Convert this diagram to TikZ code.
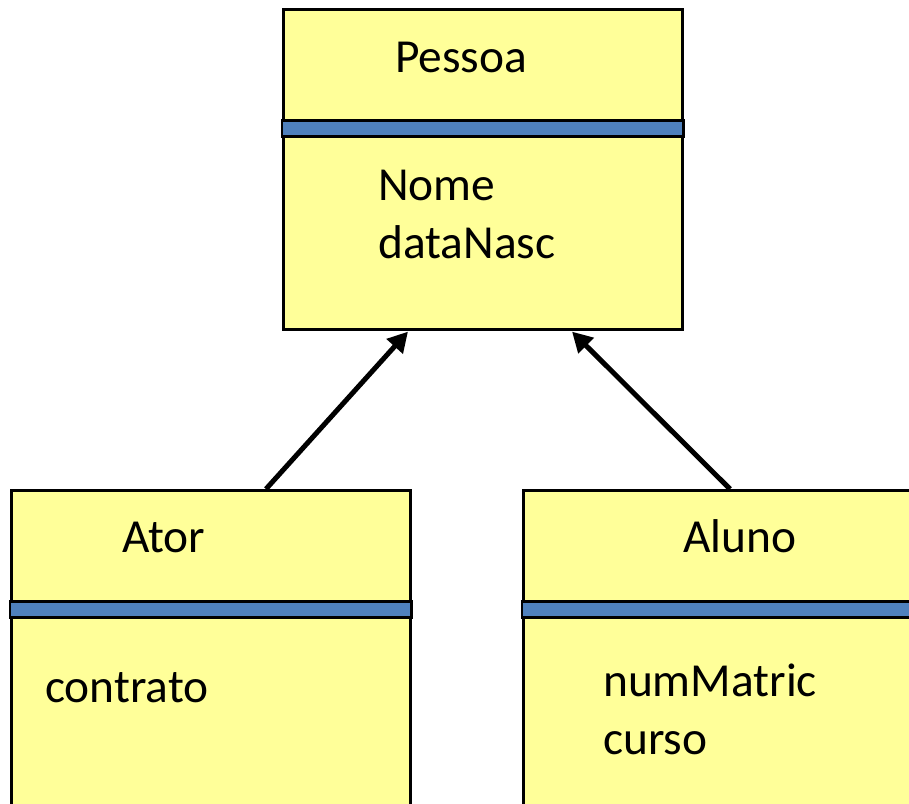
\documentclass[tikz,border=0pt]{standalone}
\usepackage{fontspec}
\setmainfont{Carlito}
\usetikzlibrary{arrows.meta,calc}
\definecolor{classfill}{HTML}{FFFF99}
\definecolor{bandblue}{HTML}{4F81BD}
\tikzset{
  classbox/.style={draw=black, line width=2.6pt, fill=classfill, rectangle,
    anchor=north west, inner sep=0pt, minimum width=399pt},
  band/.style={draw=black, line width=2.6pt, fill=bandblue},
  label/.style={anchor=base west, inner sep=0pt,
    font=\fontsize{47.4}{57}\selectfont},
  inherit/.style={line width=5pt, -{Triangle[length=20pt,width=21pt]}}
}
\begin{document}
\begin{tikzpicture}[x=1pt, y=-1pt]
\useasboundingbox (0,0) rectangle (909,803);
\fill[white] (0,0) rectangle (909,803);
\clip (0,0) rectangle (909,803);

% class boxes
\node[classbox, minimum height=320pt] (pessoa) at (282,8) {};
\node[classbox, minimum height=400pt] (ator) at (10,489) {};
\node[classbox, minimum height=400pt] (aluno) at (522,489) {};

% separator bands between name and attributes
\foreach \b in {pessoa, ator, aluno} {
  \draw[band] ($(\b.north west)+(0,112.5)$) rectangle ($(\b.north east)+(0,128.5)$);
}

% class names
\node[label] (tpessoa) at (395,72) {Pessoa};
\node[label] (tator) at (122,552) {Ator};
\node[label] (taluno) at (683,552) {Aluno};

% attributes
\node[label] (nome) at (378,200) {Nome};
\node[label] (datanasc) at (378,258) {dataNasc};
\node[label] (contrato) at (45,702) {contrato};
\node[label] (nummatric) at (603,696) {numMatric};
\node[label] (curso) at (603,754) {curso};

% generalisation arrows
\coordinate (atorTop) at ($(ator.north west)+(256,0)$);
\coordinate (alunoTop) at ($(aluno.north west)+(208,0)$);
\coordinate (pessoaL) at ($(pessoa.south west)+(126,1)$);
\coordinate (pessoaR) at ($(pessoa.south west)+(290,1)$);
\draw[inherit] (atorTop) -- (pessoaL);
\draw[inherit] (alunoTop) -- (pessoaR);
\end{tikzpicture}
\end{document}
